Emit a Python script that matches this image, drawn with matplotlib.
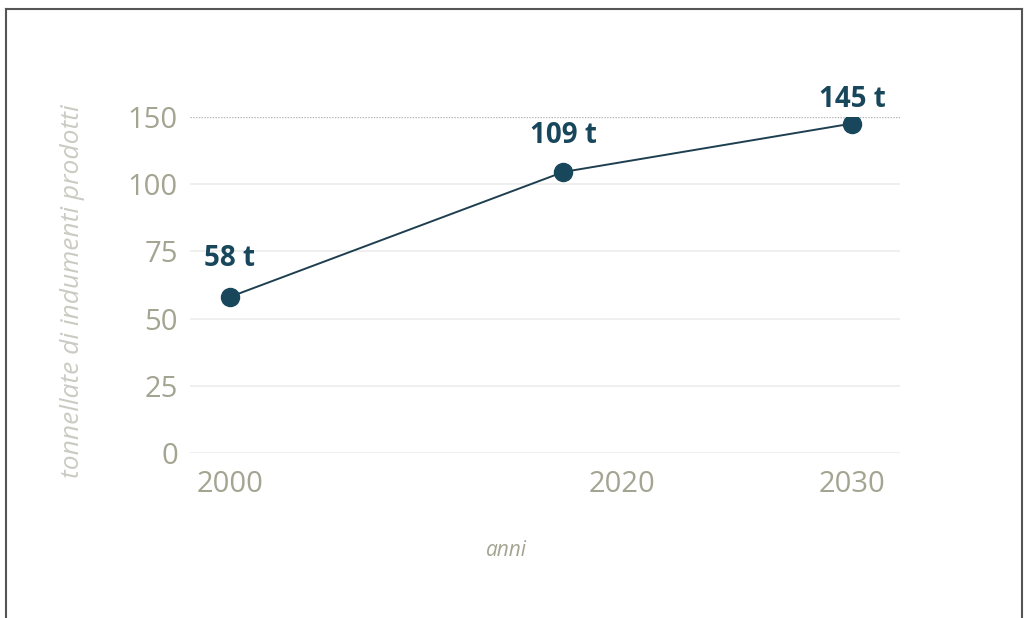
import numpy as np
import matplotlib
matplotlib.use("Agg")
import matplotlib.pyplot as plt
from matplotlib.lines import Line2D

# data
anni = [2000, 2017, 2030]
tonnellate = [58, 109, 145]
etichette = ["58 t", "109 t", "145 t"]
x_ticks = [2000, 2020, 2030]
y_ticks = [0, 25, 50, 75, 100, 150]

DARK = "#18475c"
TICK_GREY = "#a4a492"
LABEL_GREY = "#cbcbc3"

plt.rcParams["font.family"] = ["Open Sans", "DejaVu Sans"]


# the original axes are not linear: 2020->2030 is stretched, 100->150 is squeezed
def x_fwd(x):
    x = np.asarray(x, dtype=float)
    return np.where(x <= 2020, x - 2000, 20 + (x - 2020) * 1.17)


def x_inv(u):
    u = np.asarray(u, dtype=float)
    return np.where(u <= 20, u + 2000, 2020 + (u - 20) / 1.17)


def y_fwd(y):
    y = np.asarray(y, dtype=float)
    return np.where(y <= 100, y, 100 + (y - 100) * 0.5)


def y_inv(u):
    u = np.asarray(u, dtype=float)
    return np.where(u <= 100, u, 100 + (u - 100) * 2)


fig = plt.figure(figsize=(10.29, 6.18), dpi=100)
ax = fig.add_axes([0.185, 0.267, 0.69, 0.544])
ax.set_xscale("function", functions=(x_fwd, x_inv))
ax.set_yscale("function", functions=(y_fwd, y_inv))

ax.plot(anni, tonnellate, color="#1e3f50", lw=1.4, zorder=3)
ax.plot(anni, tonnellate, "o", color=DARK, ms=13, zorder=4)

offsets = [17, 16, 7]
for x, y, txt, off in zip(anni, tonnellate, etichette, offsets):
    ax.annotate(txt, (x, y), xytext=(0, off), textcoords="offset points",
                ha="center", va="bottom", fontsize=20, fontweight="bold",
                color=DARK)

ax.set_xlim(1998, 2032.1)
ax.set_ylim(0, 150)
ax.set_xticks(x_ticks)
ax.set_xticklabels([str(v) for v in x_ticks])
ax.set_yticks(y_ticks)
ax.set_yticklabels([str(v) for v in y_ticks])
ax.yaxis.set_minor_locator(plt.NullLocator())
ax.xaxis.set_minor_locator(plt.NullLocator())

ax.tick_params(length=0, labelsize=21, labelcolor=TICK_GREY)
ax.tick_params(axis="y", pad=9)
ax.tick_params(axis="x", pad=12)

for s in ax.spines.values():
    s.set_visible(False)

for v in y_ticks:
    if v == 150:
        ax.axhline(v, color="#b5b5b5", lw=1.0, ls=(0, (1, 1)), zorder=1)
    else:
        ax.axhline(v, color="#ececec", lw=1.2, zorder=1)

ax.set_ylabel("tonnellate di indumenti prodotti", fontsize=19, style="italic",
              color=LABEL_GREY)
ax.yaxis.set_label_coords(-0.148, 0.48)
ax.set_xlabel("anni", fontsize=15, style="italic", color=TICK_GREY)
ax.xaxis.set_label_coords(0.445, -0.26)

# frame around the picture (open at the bottom)
frame = dict(color="#555555", lw=1.5, transform=fig.transFigure)
fig.add_artist(Line2D([6 / 1029, 6 / 1029], [0, 1 - 9 / 618], **frame))
fig.add_artist(Line2D([6 / 1029, 1022 / 1029], [1 - 9 / 618, 1 - 9 / 618], **frame))
fig.add_artist(Line2D([1022 / 1029, 1022 / 1029], [0, 1 - 9 / 618], **frame))

fig.savefig("out.png", dpi=100)
